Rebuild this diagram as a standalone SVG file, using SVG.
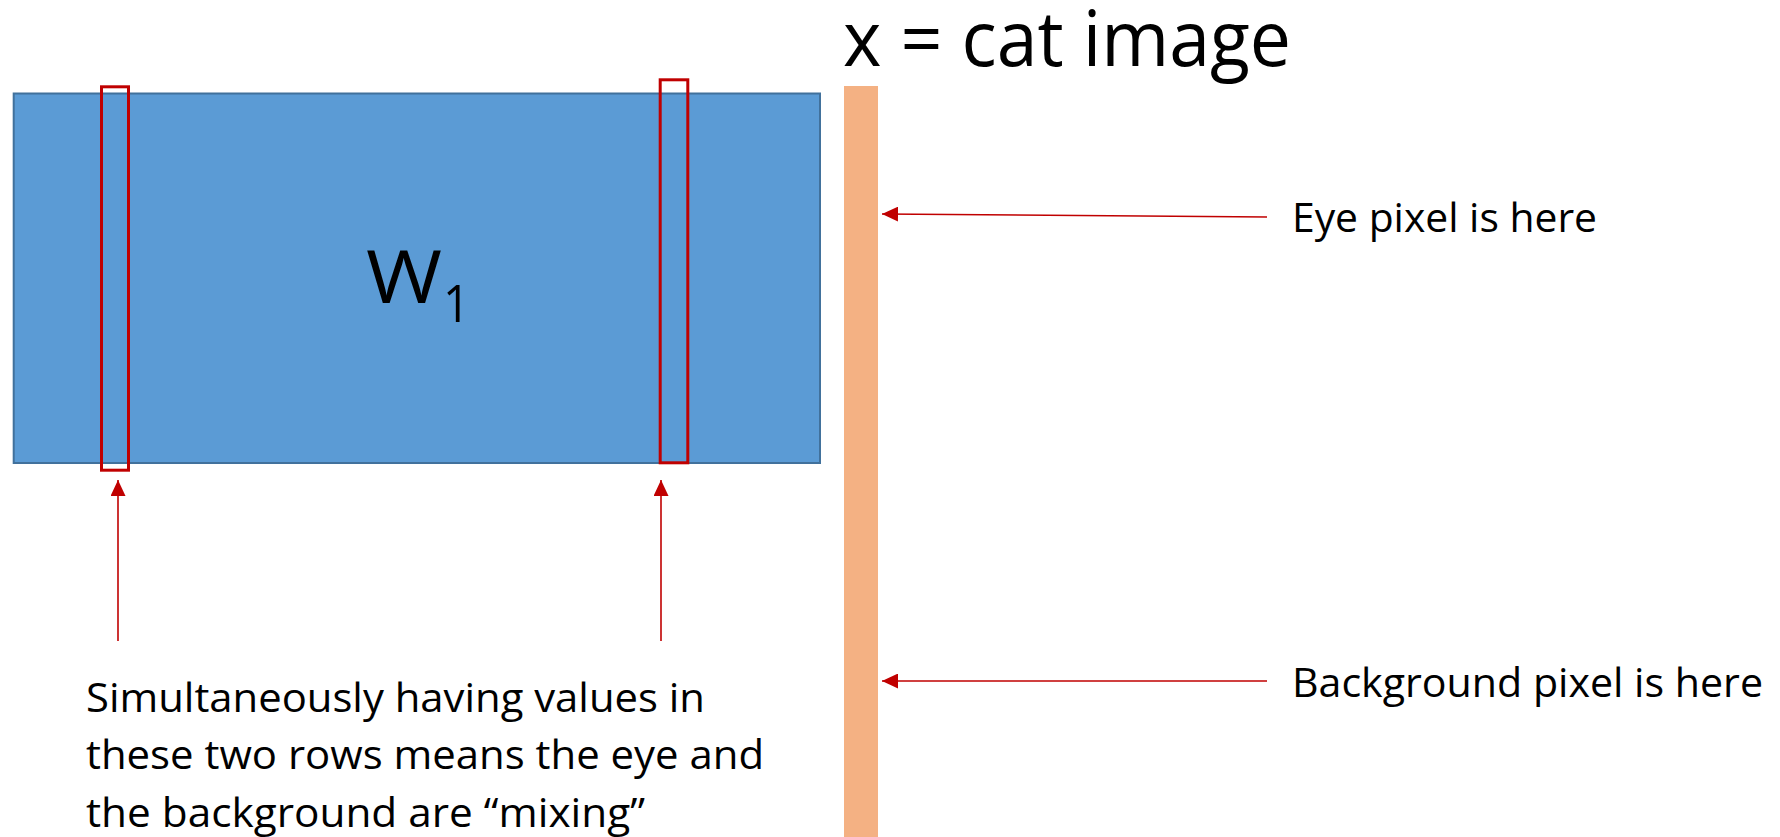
<svg xmlns="http://www.w3.org/2000/svg" width="1780" height="837" viewBox="0 0 1780 837">
  <defs>
    <style>
      .txt { font-family: "Open Sans", "Liberation Sans", sans-serif; fill: #000000; }
      .label { font-size: 40px; }
      .matrix { fill: #5B9BD5; stroke: #41719C; stroke-width: 2; }
      .row { fill: none; stroke: #C00000; stroke-width: 3; }
      .vec { fill: #F4B183; }
      .arrow { fill: none; stroke: #C00000; stroke-width: 1.6; marker-end: url(#head); }
    </style>
    <marker id="head" viewBox="0 0 16 15" markerWidth="16" markerHeight="15" refX="16" refY="7.5" orient="auto" markerUnits="userSpaceOnUse">
      <path d="M0,0 L16,7.5 L0,15 Z" fill="#C00000"/>
    </marker>
  </defs>
  <rect width="1780" height="837" fill="#FFFFFF"/>

  <!-- weight matrix W1 -->
  <g id="matrix-w1">
    <rect class="matrix" x="13.7" y="93.5" width="806.3" height="369.5"/>
    <text class="txt" x="366" y="303" font-size="74" textLength="76" lengthAdjust="spacingAndGlyphs">W</text>
    <text class="txt" x="443" y="322" font-size="52" textLength="27" lengthAdjust="spacingAndGlyphs">1</text>
  </g>

  <!-- highlighted rows -->
  <g id="row-eye">
    <rect class="row" x="101.5" y="86.8" width="27" height="383.4"/>
  </g>
  <g id="row-background">
    <rect class="row" x="660.2" y="79.8" width="27.6" height="383"/>
  </g>

  <!-- input vector x -->
  <g id="vector-x">
    <rect class="vec" x="844" y="86" width="34" height="751"/>
    <text class="txt" x="843" y="66" font-size="76" textLength="448" lengthAdjust="spacingAndGlyphs">x = cat image</text>
  </g>

  <!-- annotations -->
  <g id="label-eye">
    <text class="txt label" x="1292" y="232" textLength="305" lengthAdjust="spacingAndGlyphs">Eye pixel is here</text>
  </g>
  <g id="label-background">
    <text class="txt label" x="1292" y="697" textLength="471" lengthAdjust="spacingAndGlyphs">Background pixel is here</text>
  </g>
  <g id="label-mixing">
    <text class="txt label" x="86" y="712" textLength="619" lengthAdjust="spacingAndGlyphs">Simultaneously having values in</text>
    <text class="txt label" x="86" y="769" textLength="678" lengthAdjust="spacingAndGlyphs">these two rows means the eye and</text>
    <text class="txt label" x="86" y="827" textLength="559" lengthAdjust="spacingAndGlyphs">the background are “mixing”</text>
  </g>

  <!-- connectors -->
  <g id="connectors">
    <line class="arrow" x1="118" y1="641" x2="118" y2="480"/>
    <line class="arrow" x1="661" y1="641" x2="661" y2="480"/>
    <line class="arrow" x1="1267" y1="217" x2="882" y2="214"/>
    <line class="arrow" x1="1267" y1="681" x2="882" y2="681"/>
  </g>
</svg>
